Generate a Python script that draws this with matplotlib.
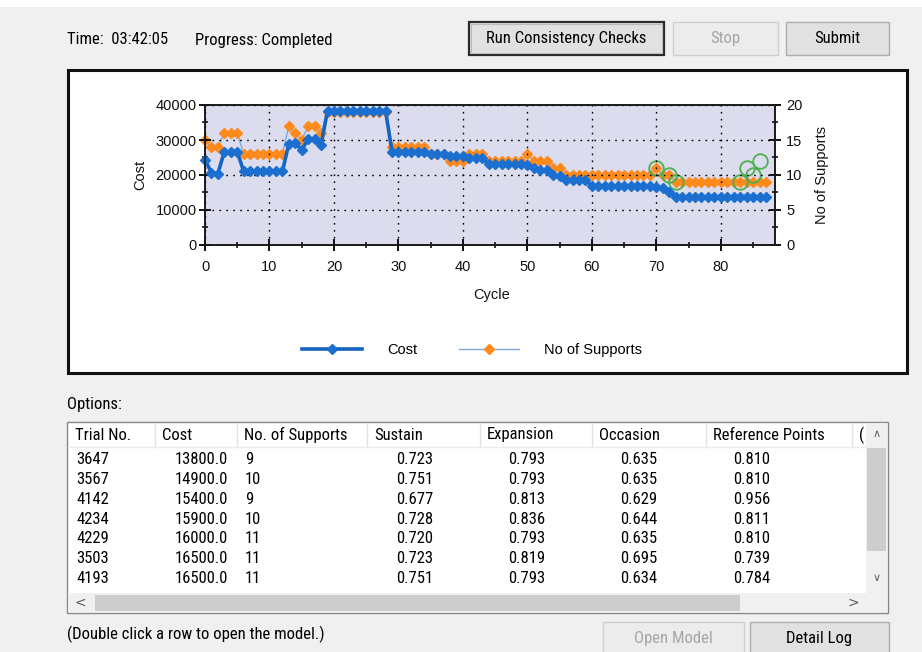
import numpy as np
import matplotlib
matplotlib.use('Agg')
import matplotlib.pyplot as plt
from matplotlib.patches import Rectangle
from matplotlib.lines import Line2D
from matplotlib.ticker import MultipleLocator
from matplotlib import font_manager

# 数据：每个循环的成本与支撑数量
cost = [24300, 20700, 20400, 26700, 26700, 26700, 21000, 21000, 21000, 21000,
        21000, 21000, 21000, 28900, 29200, 27200, 30200, 30200, 28600, 38400,
        38400, 38400, 38400, 38400, 38400, 38400, 38400, 38400, 38400, 26700,
        26700, 26700, 26700, 26700, 26700, 26100, 26100, 26100, 25300, 25300,
        25300, 24900, 24900, 24900, 23000, 23000, 23000, 23000, 23000, 23000,
        22800, 22000, 21500, 21500, 20000, 19600, 18700, 18700, 18700, 18700,
        16800, 16800, 16800, 16800, 16800, 16800, 16800, 16800, 16800, 16800,
        16700, 16200, 15200, 13800, 13800, 13800, 13800, 13800, 13800, 13800,
        13800, 13800, 13800, 13800, 13800, 13800, 13800, 13800]
supports = [15, 14, 14, 16, 16, 16, 13, 13, 13, 13,
            13, 13, 13, 17, 16, 15, 17, 17, 16, 19,
            19, 19, 19, 19, 19, 19, 19, 19, 19, 14,
            14, 14, 14, 14, 14, 13, 13, 13, 12, 12,
            12, 13, 13, 13, 12, 12, 12, 12, 12, 12,
            13, 12, 12, 12, 11, 11, 10, 10, 10, 10,
            10, 10, 10, 10, 10, 10, 10, 10, 10, 10,
            11, 10, 10, 9, 9, 9, 9, 9, 9, 9,
            9, 9, 9, 9, 9, 9, 9, 9]
cycles = np.arange(len(cost))

# 绿色圆圈标记的方案
opt_cycle = [70, 72, 73, 83, 84, 85, 86]
opt_supports = [11, 10, 9, 9, 11, 10, 12]

# 表格数据
col_names = ['Trial No.', 'Cost', 'No. of Supports', 'Sustain', 'Expansion',
             'Occasion', 'Reference Points', '(']
trial_no = ['3647', '3567', '4142', '4234', '4229', '3503', '4193']
cost_opt = [13800.0, 14900.0, 15400.0, 15900.0, 16000.0, 16500.0, 16500.0]
supports_opt = [9, 10, 9, 10, 11, 11, 11]
sustain = [0.723, 0.751, 0.677, 0.728, 0.720, 0.723, 0.751]
expansion = [0.793, 0.793, 0.813, 0.836, 0.793, 0.819, 0.793]
occasion = [0.635, 0.635, 0.629, 0.644, 0.635, 0.695, 0.634]
ref_points = [0.810, 0.810, 0.956, 0.811, 0.810, 0.739, 0.784]

W, H = 922, 652
avail = {f.name for f in font_manager.fontManager.ttflist}
UI_FONT, UI_SIZE = 'Liberation Sans', 10.2
for name in ['Liberation Sans Narrow', 'Roboto Condensed', 'Open Sans Condensed',
             'Noto Sans Condensed', 'DejaVu Sans Condensed']:
    if name in avail:
        UI_FONT, UI_SIZE = name, (12.3 if 'Narrow' in name else 12.0)
        break
plt.rcParams['font.family'] = ['Liberation Sans', 'DejaVu Sans']

fig = plt.figure(figsize=(W / 100, H / 100), dpi=100, facecolor='#f0f0f0')


def fx(x):
    return x / W


def fy(y):
    return 1 - y / H


def rect(x0, y0, x1, y1, fc, ec='none', lw=1.0, z=1):
    fig.patches.append(Rectangle((fx(x0), fy(y1)), fx(x1) - fx(x0), fy(y0) - fy(y1),
                                 transform=fig.transFigure, facecolor=fc,
                                 edgecolor=ec, linewidth=lw, zorder=z))


def txt(x, y, s, size=None, color='black', ha='left', family=None, z=5):
    fig.text(fx(x), fy(y), s, ha=ha, va='center', fontsize=size or UI_SIZE, color=color,
             family=family or [UI_FONT, 'DejaVu Sans'], zorder=z)


def button(x0, y0, x1, y1, label, enabled=True, default=False):
    if default:
        rect(x0, y0, x1, y1, '#e1e1e1', '#2b2b2b', 1.6)
        rect(x0 + 2, y0 + 2, x1 - 2, y1 - 2, 'none', '#bdbdbd', 0.8, z=2)
    elif enabled:
        rect(x0, y0, x1, y1, '#e1e1e1', '#adadad', 1.0)
    else:
        rect(x0, y0, x1, y1, '#ececec', '#cfcfcf', 1.0)
    txt((x0 + x1) / 2, (y0 + y1) / 2, label, ha='center',
        color='black' if enabled else '#a6a6a6')


# 顶部栏
rect(0, 0, W, 7, 'white', z=0)
txt(67, 40, 'Time:  03:42:05')
txt(195, 40, 'Progress: Completed')
button(469, 22, 664, 55, 'Run Consistency Checks', default=True)
button(673, 22, 778, 55, 'Stop', enabled=False)
button(786, 22, 889, 55, 'Submit')

# 图表面板
rect(68, 70, 907, 373, 'white', '#111111', 2.2)

ax = fig.add_axes([fx(205), fy(245), (775 - 205) / W, (245 - 105) / H])
ax2 = ax.twinx()
ax.set_zorder(3)
ax2.set_zorder(2)
ax.patch.set_visible(False)
ax2.patch.set_visible(True)
ax2.patch.set_facecolor('#dcdcef')

ax.plot(cycles, cost, color='#1565c0', lw=2.6, marker='D', ms=4.8,
        mfc='#1a6fd0', mec='#1a6fd0', label='Cost', clip_on=False)
ax2.plot(cycles, supports, color='#7fa8d8', lw=1.0, marker='D', ms=4.8,
         mfc='#ff8a1c', mec='#ff8a1c', label='No of Supports', clip_on=False)
ax2.plot(opt_cycle, opt_supports, linestyle='none', marker='o', ms=10.5,
         mfc='none', mec='#4caf50', mew=1.3)

ax.set_xlim(0, 88.4)
ax.set_ylim(0, 40000)
ax2.set_ylim(0, 20)
ax.xaxis.set_major_locator(MultipleLocator(10))
ax.xaxis.set_minor_locator(MultipleLocator(5))
ax.yaxis.set_major_locator(MultipleLocator(10000))
ax.yaxis.set_minor_locator(MultipleLocator(5000))
ax2.yaxis.set_major_locator(MultipleLocator(5))
ax2.yaxis.set_minor_locator(MultipleLocator(2.5))
ax.grid(True, which='major', color='black', linestyle=(0, (1.2, 3.8)), linewidth=1.0)

for a in (ax, ax2):
    a.tick_params(which='major', direction='inout', length=8, width=1.3,
                  labelsize=10.5, labelcolor='#111111')
    a.tick_params(which='minor', direction='inout', length=5, width=1.1)
    for s in a.spines.values():
        s.set_color('#1a1a1a')
        s.set_linewidth(1.2)
ax.tick_params(axis='x', pad=7)
ax.tick_params(axis='y', pad=2)
ax2.tick_params(axis='y', pad=4)

ax.set_xlabel('Cycle', fontsize=10.5, color='#111111')
ax.xaxis.set_label_coords((492 - 205) / 570, (245 - 288) / 140)
ax.set_ylabel('Cost', fontsize=10.5, color='#111111')
ax.yaxis.set_label_coords((147 - 205) / 570, 0.5)
ax2.set_ylabel('No of Supports', fontsize=10.5, color='#111111')
ax2.yaxis.set_label_coords((815 - 205) / 570, 0.5)

h1, l1 = ax.get_legend_handles_labels()
h2, l2 = ax2.get_legend_handles_labels()
fig.legend(h1 + h2, l1 + l2, loc='center', bbox_to_anchor=(fx(472), fy(350)),
           ncol=2, frameon=False, fontsize=10.5, handlelength=4.1,
           handletextpad=1.7, columnspacing=2.9, numpoints=1)

# 选项表格
txt(67, 405, 'Options:')
rect(67, 422, 888, 613, 'white', '#828790', 1.0)
col_left = [68, 155, 237, 367, 480, 592, 706, 852]
for x in col_left[1:]:
    fig.add_artist(Line2D([fx(x), fx(x)], [fy(424), fy(447)], color='#e3e3e3', lw=1.0,
                          transform=fig.transFigure, zorder=4))
fig.add_artist(Line2D([fx(68), fx(866)], [fy(447), fy(447)], color='#ececec', lw=1.0,
                      transform=fig.transFigure, zorder=4))
for x, name in zip(col_left, col_names):
    txt(x + 7, 435, name)

row_y0, row_dy = 460, 19.7
for i in range(len(trial_no)):
    y = row_y0 + i * row_dy
    txt(76, y, trial_no[i])
    txt(228, y, f'{cost_opt[i]:.1f}', ha='right')
    txt(245, y, str(supports_opt[i]))
    txt(433, y, f'{sustain[i]:.3f}', ha='right')
    txt(545, y, f'{expansion[i]:.3f}', ha='right')
    txt(657, y, f'{occasion[i]:.3f}', ha='right')
    txt(770, y, f'{ref_points[i]:.3f}', ha='right')

# 滚动条
rect(866, 423, 887, 593, '#f0f0f0', z=4)
rect(867, 448, 886, 551, '#cdcdcd', z=4)
rect(68, 593, 887, 612, '#f0f0f0', z=4)
rect(95, 595, 740, 611, '#cdcdcd', z=4)
txt(877, 434, '\u2227', size=8, color='#606060', ha='center', family=['DejaVu Sans'])
txt(877, 578, '\u2228', size=8, color='#606060', ha='center', family=['DejaVu Sans'])
txt(80, 603, '<', size=10, color='#606060', ha='center', family=['DejaVu Sans'])
txt(853, 603, '>', size=10, color='#606060', ha='center', family=['DejaVu Sans'])

# 底部
txt(67, 634, '(Double click a row to open the model.)')
button(603, 622, 744, 654, 'Open Model', enabled=False)
button(750, 622, 889, 654, 'Detail Log')

fig.savefig('out.png', dpi=100, facecolor=fig.get_facecolor())
